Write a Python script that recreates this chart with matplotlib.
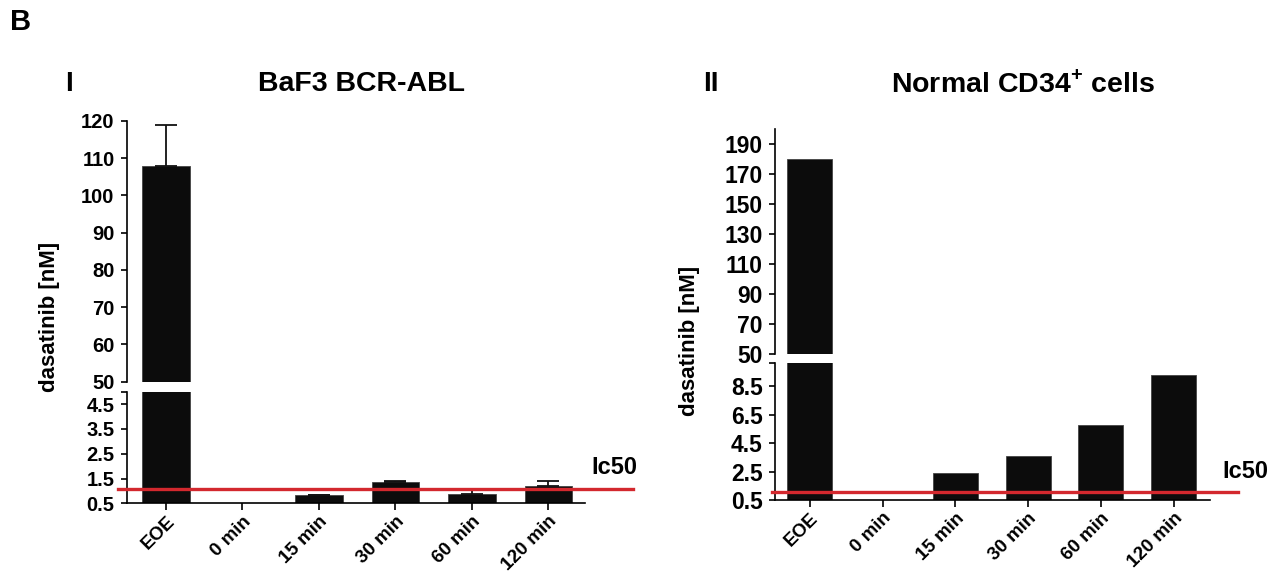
import numpy as np
import matplotlib
matplotlib.use("Agg")
import matplotlib.pyplot as plt

plt.rcParams['font.family'] = ['Liberation Sans', 'DejaVu Sans']
plt.rcParams['font.weight'] = 'bold'
plt.rcParams['mathtext.fontset'] = 'custom'
plt.rcParams['mathtext.rm'] = 'Liberation Sans:bold'
plt.rcParams['mathtext.bf'] = 'Liberation Sans:bold'

# data
categories = ['EOE', '0 min', '15 min', '30 min', '60 min', '120 min']
baf3_vals = [108, 0, 0.84, 1.35, 0.86, 1.21]
baf3_err = [11, 0, 0, 0.03, 0.2, 0.19]
cd34_vals = [180, 0, 2.37, 3.61, 5.78, 9.29]
ic50_baf3 = 1.08
ic50_cd34 = 1.04

baf3_top_ticks = [50, 60, 70, 80, 90, 100, 110, 120]
baf3_low_ticks = [0.5, 1.5, 2.5, 3.5, 4.5]
cd34_top_ticks = [50, 70, 90, 110, 130, 150, 170, 190]
cd34_low_ticks = [0.5, 2.5, 4.5, 6.5, 8.5]

W, H = 1285, 573
fig = plt.figure(figsize=(W / 100, H / 100), dpi=100)

def px(x0, x1, ytop, ybot):
    # pixel box -> figure fraction rect
    return [x0 / W, 1 - ybot / H, (x1 - x0) / W, (ybot - ytop) / H]

bar_color = '#0c0c0c'
red = '#d3282e'

def panel(box_x, top_y, low_y, vals, err, top_lim, low_lim, top_ticks, low_ticks,
          ic50, xlim, line_span, ic_pos, tsize, xsize):
    x = np.arange(len(categories))
    ax_t = fig.add_axes(px(box_x[0], box_x[1], top_y[0], top_y[1]))
    ax_l = fig.add_axes(px(box_x[0], box_x[1], low_y[0], low_y[1]))
    for ax in (ax_t, ax_l):
        ax.bar(x, vals, width=0.62, color=bar_color, edgecolor='#444444', linewidth=0.6)
        if err is not None:
            ax.errorbar(x, vals, yerr=[np.zeros(len(err)), err], fmt='none',
                        ecolor='#111111', elinewidth=1.3, capsize=8, capthick=1.3)
        ax.set_xlim(*xlim)
        for s in ('top', 'right'):
            ax.spines[s].set_visible(False)
        ax.spines['left'].set_linewidth(1.2)
        ax.spines['bottom'].set_linewidth(1.2)
        ax.tick_params(axis='y', direction='out', length=4, width=1.2, labelsize=tsize, pad=5)
        ax.tick_params(axis='x', direction='out', length=5, width=1.2, pad=2)
    ax_t.set_ylim(*top_lim)
    ax_t.set_yticks(top_ticks)
    ax_t.set_yticklabels([str(t) for t in top_ticks])
    ax_t.spines['bottom'].set_visible(False)
    ax_t.set_xticks([])
    ax_l.set_ylim(*low_lim)
    ax_l.set_yticks(low_ticks)
    ax_l.set_yticks([low_lim[1]], minor=True)
    ax_l.tick_params(axis='y', which='minor', length=4, width=1.2)
    ax_l.set_xticks(x)
    ax_l.set_xticklabels(categories, rotation=45, ha='right', va='top',
                         rotation_mode='anchor', fontsize=xsize)
    ax_l.plot(line_span, [ic50, ic50], color=red, lw=2.4,
              transform=ax_l.get_yaxis_transform(), clip_on=False, zorder=5)
    ax_l.text(ic_pos[0], ic_pos[1], 'Ic50', transform=ax_l.get_yaxis_transform(),
              fontsize=17, ha='left', va='center', fontweight='bold')
    return ax_t, ax_l

panel((127, 585), (121, 381.7), (391.7, 503.3), baf3_vals, baf3_err,
      (50, 120), (0.5, 5.0), baf3_top_ticks, baf3_low_ticks, ic50_baf3,
      (-0.51, 5.48), [-0.02, 1.105], (1.015, 1.93), 14.5, 13.5)

panel((775, 1210), (129.3, 354.3), (363.3, 500), cd34_vals, None,
      (50, 200), (0.5, 10.1), cd34_top_ticks, cd34_low_ticks, ic50_cd34,
      (-0.48, 5.5), [-0.008, 1.064], (1.028, 2.49), 16.5, 13.5)

# y labels
fig.text(50 / W, 1 - 317 / H, 'dasatinib [nM]', rotation=90, ha='center', va='center',
         fontsize=16, fontweight='bold')
fig.text(690 / W, 1 - 341 / H, 'dasatinib [nM]', rotation=90, ha='center', va='center',
         fontsize=16, fontweight='bold')

# titles and panel marks
fig.text(21 / W, 1 - 22 / H, 'B', ha='center', va='center', fontsize=21, fontweight='bold')
fig.text(69 / W, 1 - 84 / H, 'I', ha='center', va='center', fontsize=20, fontweight='bold')
fig.text(711 / W, 1 - 84 / H, 'II', ha='center', va='center', fontsize=20, fontweight='bold')
fig.text(362 / W, 1 - 84 / H, 'BaF3 BCR-ABL', ha='center', va='center', fontsize=20.5,
         fontweight='bold')
fig.text(1023 / W, 1 - 84 / H, r'Normal CD34$^{\mathbf{+}}$ cells', ha='center', va='center',
         fontsize=20.5, fontweight='bold')

fig.savefig('out.png', dpi=100)
